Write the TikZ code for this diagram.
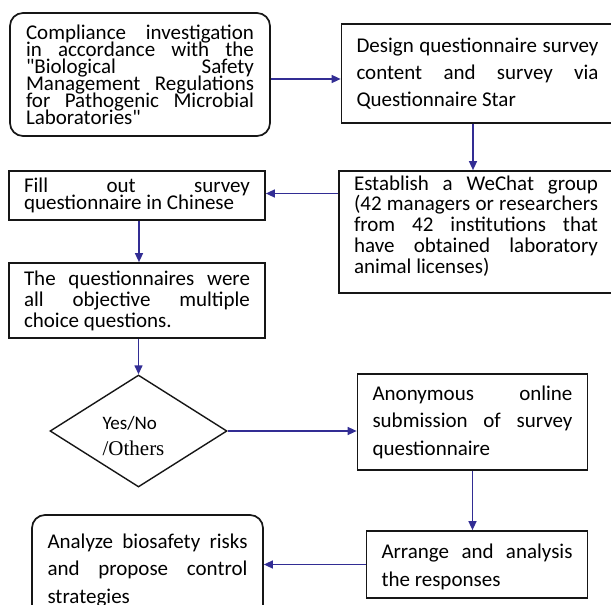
\documentclass[tikz,border=0pt]{standalone}
\usepackage{fontspec}
\newfontfamily\bodyfont{Carlito}
\newfontfamily\serifrm{Liberation Serif}
\usetikzlibrary{arrows.meta,shapes.geometric}
\definecolor{ink}{RGB}{22,22,22}
\definecolor{flowblue}{RGB}{50,45,148}

\begin{document}
\bodyfont
\begin{tikzpicture}[x=1pt,y=-1pt,
    stepbox/.style={draw=ink,line width=1.7pt,inner xsep=15pt,inner ysep=0pt,
      align=justify,execute at begin node={\tolerance=10000
        \hyphenpenalty=10000\lineskiplimit=-50pt}},
    roundbox/.style={stepbox,rounded corners=13pt},
    decide/.style={draw=ink,line width=1.4pt,diamond,aspect=1.6,inner sep=0pt,
      align=left,font=\fontsize{21}{26}\selectfont},
    flow/.style={draw=flowblue,line width=1.4pt,-{Triangle[length=9pt,width=8pt]}}]
  \path[use as bounding box,clip] (0,0) rectangle (611,605);

  % left column
  \node[roundbox,minimum width=260pt,minimum height=123pt,text width=228pt,
    font=\fontsize{21}{17}\selectfont] (comp) at (140,74.5) {%
    Compliance investigation\linebreak
    in accordance with the\linebreak
    "Biological Safety\linebreak
    Management Regulations\linebreak
    for Pathogenic Microbial\linebreak
    Laboratories"};
  \node[stepbox,minimum width=256pt,minimum height=49pt,text width=226pt,
    font=\fontsize{21}{17}\selectfont] (fill) at (137,195.5) {%
    Fill out survey\linebreak
    questionnaire in Chinese};
  \node[stepbox,minimum width=256pt,minimum height=75pt,text width=226pt,
    font=\fontsize{21}{21}\selectfont] (objective) at (137,300.5) {%
    The questionnaires were\linebreak
    all objective multiple\linebreak
    choice questions.};
  \node[decide,minimum width=177pt,minimum height=112pt] (yesno) at (138.5,431)
    {\rule{0pt}{24pt}{\bodyfont\fontsize{19}{26}\selectfont Yes/No}\\
     {\serifrm /Others}\kern10pt};
  \node[roundbox,minimum width=231pt,minimum height=111pt,text width=200pt,
    font=\fontsize{21}{27.5}\selectfont] (analyze) at (147.5,570.5) {%
    Analyze biosafety risks\linebreak
    and propose control\linebreak
    strategies};

  % right column
  \node[stepbox,minimum width=269pt,minimum height=99pt,text width=242pt,
    font=\fontsize{21}{27}\selectfont] (design) at (477.5,73.5) {%
    Design questionnaire survey\linebreak
    content and survey via\linebreak
    Questionnaire Star};
  \node[stepbox,minimum width=272pt,minimum height=122pt,text width=244pt,
    text depth=98pt,font=\fontsize{21}{20.7}\selectfont] (wechat) at (476,232) {%
    Establish a WeChat group\linebreak
    (42 managers or researchers\linebreak
    from 42 institutions that\linebreak
    have obtained laboratory\linebreak
    animal licenses)};
  \node[stepbox,minimum width=229pt,minimum height=96pt,text width=200pt,
    font=\fontsize{21}{27.5}\selectfont] (anon) at (472.5,422) {%
    Anonymous online\linebreak
    submission of survey\linebreak
    questionnaire};
  \node[stepbox,minimum width=220pt,minimum height=67pt,text width=191pt,
    text depth=26.5pt,font=\fontsize{21}{28}\selectfont] (arrange) at (477,564.5) {%
    Arrange and analysis\linebreak
    the responses};

  % connectors
  \draw[flow] ([yshift=-4.5pt]comp.east) -- ([yshift=-4.5pt]comp.east -| design.west);
  \draw[flow] ([xshift=-4.5pt]design.south) -- ([xshift=-4.5pt]design.south |- wechat.north);
  \draw[flow] ([yshift=2pt]wechat.west |- fill.east) -- ([yshift=2pt]fill.east);
  \draw[flow] ([xshift=2pt]fill.south) -- ([xshift=2pt]fill.south |- objective.north);
  \draw[flow] (objective.south -| yesno.north) -- (yesno.north);
  \draw[flow] (yesno.east) -- (yesno.east -| anon.west);
  \draw[flow] (anon.south) -- (anon.south |- arrange.north);
  \draw[flow] (arrange.west) -- (arrange.west -| analyze.east);
\end{tikzpicture}
\end{document}
